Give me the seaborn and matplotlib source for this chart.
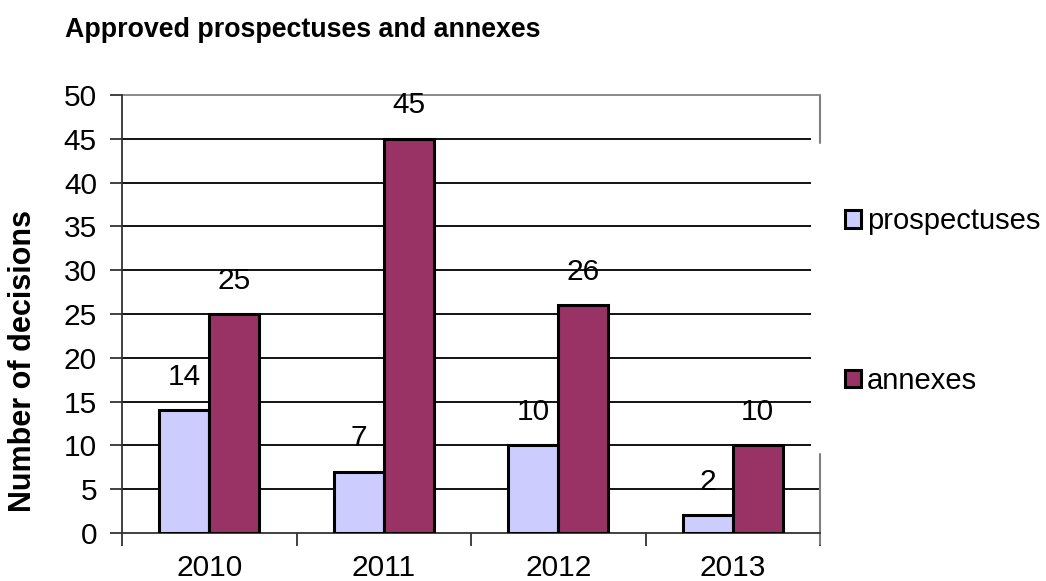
import matplotlib
matplotlib.use("Agg")
import matplotlib.pyplot as plt
import seaborn as sns
import pandas as pd

years = ["2010", "2011", "2012", "2013"]
prospectuses = [14, 7, 10, 2]
annexes = [25, 45, 26, 10]
series_names = ["prospectuses", "annexes"]
colors = ["#CCCCFF", "#993366"]
yticks = [0, 5, 10, 15, 20, 25, 30, 35, 40, 45, 50]

df = pd.DataFrame({
    "year": years * 2,
    "count": prospectuses + annexes,
    "type": [series_names[0]] * len(years) + [series_names[1]] * len(years),
})

sns.set_style("white")
plt.rcParams["font.family"] = ["Liberation Sans", "DejaVu Sans"]
plt.rcParams["text.color"] = "black"
plt.rcParams["xtick.color"] = "black"
plt.rcParams["ytick.color"] = "black"

fig = plt.figure(figsize=(10.46, 5.81), dpi=100)
ax = fig.add_axes([122 / 1046, 1 - 533 / 581, 698 / 1046, 438 / 581])

sns.barplot(data=df, x="year", y="count", hue="type", palette=colors, saturation=1,
            edgecolor="black", linewidth=2.2, width=0.574, ax=ax, zorder=3)

# gridlines
for y in yticks[1:]:
    xmax = 1.0 if y in (5, 50) else 0.987
    col = "#808080" if y == 50 else "black"
    ax.hlines(y, 0, xmax, transform=ax.get_yaxis_transform(), color=col,
              linewidth=1.3, zorder=1, clip_on=False)

ax.set_xlim(-0.5, 3.5)
ax.set_ylim(0, 50)
ax.set_yticks(yticks)
ax.set_xticks([-0.5, 0.5, 1.5, 2.5, 3.5])
ax.set_xticklabels([])
ax.set_xticks(range(len(years)), minor=True)
ax.set_xticklabels(years, minor=True)
ax.tick_params(axis="x", which="major", direction="out", length=9, width=1.3,
               color="#333333", bottom=True)
ax.tick_params(axis="x", which="minor", length=0, pad=15, labelsize=21.5)
ax.tick_params(axis="y", direction="out", length=9, width=1.3, color="#333333",
               left=True, labelsize=21.5, pad=9)
ax.set_xlabel("")
ax.set_ylabel("")

for s in ["top", "right"]:
    ax.spines[s].set_visible(False)
for s in ["left", "bottom"]:
    ax.spines[s].set_color("#333333")
    ax.spines[s].set_linewidth(1.3)

# partial right border (Excel plot area)
ax.plot([1, 1], [-1.3, 9], transform=ax.get_yaxis_transform(), color="#808080",
        linewidth=1.5, clip_on=False, zorder=2)
ax.plot([1, 1], [44.5, 50], transform=ax.get_yaxis_transform(), color="#808080",
        linewidth=1.5, clip_on=False, zorder=2)

for cont in ax.containers:
    ax.bar_label(cont, padding=14, fontsize=21.5, color="black")

handles, labels = ax.get_legend_handles_labels()
if ax.legend_ is not None:
    ax.legend_.remove()
fig.legend(handles, labels, loc="center left", bbox_to_anchor=(845 / 1046, 1 - 301 / 581),
           frameon=False, fontsize=21, handlelength=0.55, handleheight=0.55,
           handletextpad=0.2, labelspacing=4.5, borderpad=0, borderaxespad=0)

fig.text(65 / 1046, 1 - 30 / 581, "Approved prospectuses and annexes",
         fontsize=19.3, fontweight="bold", ha="left", va="center")
fig.text(23 / 1046, 1 - 361 / 581, "Number of decisions", fontsize=22,
         fontweight="bold", rotation=90, ha="center", va="center")

fig.savefig("out.png", dpi=100)
